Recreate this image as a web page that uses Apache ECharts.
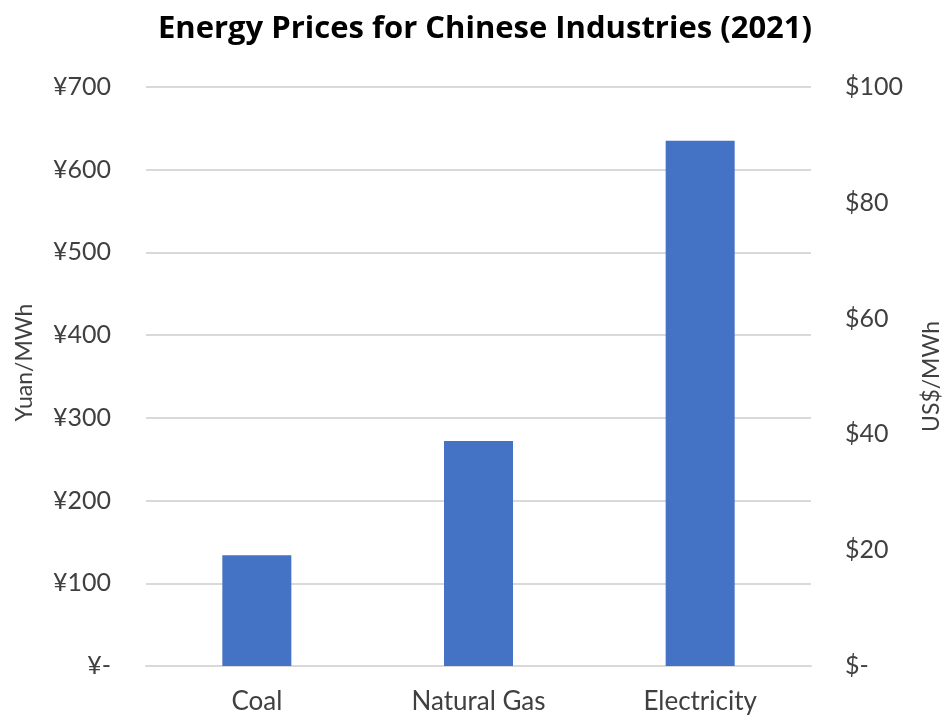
<!DOCTYPE html>
<html>
<head>
<meta charset="utf-8">
<script src="https://cdn.jsdelivr.net/npm/echarts@6/dist/echarts.min.js"></script>
<style>html,body{margin:0;padding:0;background:#fff}#c{width:946px;height:715px}</style>
</head>
<body>
<div id="c"></div>
<script>
const categories = ["Coal", "Natural Gas", "Electricity"];
const yuanPerMWh = [134, 272, 635];
const yuanTicks = { min: 0, max: 700, interval: 100 };
const usdTicks = { min: 0, max: 100, interval: 20 };

const FONT = "Lato";
const chart = echarts.init(document.getElementById('c'), null, { renderer: 'canvas' });
chart.setOption({
  animation: false,
  backgroundColor: '#ffffff',
  title: {
    text: 'Energy Prices for Chinese Industries (2021)',
    left: 480, top: 9, textAlign: 'center',
    textStyle: { fontFamily: 'Open Sans', fontWeight: 'bold', fontSize: 31, color: '#000' }
  },
  grid: { left: 146, right: 135, top: 87, bottom: 49, outerBoundsMode: 'none', containLabel: false },
  xAxis: {
    type: 'category',
    data: categories,
    axisLine: { lineStyle: { color: '#d9d9d9', width: 2 } },
    axisTick: { show: false },
    axisLabel: { fontFamily: FONT, fontSize: 26, color: '#404040', margin: 23 }
  },
  yAxis: [
    {
      type: 'value', position: 'left',
      min: yuanTicks.min, max: yuanTicks.max, interval: yuanTicks.interval,
      name: 'Yuan/MWh', nameLocation: 'middle', nameRotate: 90, nameGap: 110,
      nameTextStyle: { fontFamily: FONT, fontSize: 23, color: '#404040', padding: [0, 0, 0, 28] },
      axisLine: { show: false }, axisTick: { show: false },
      splitLine: { lineStyle: { color: '#d9d9d9', width: 2 } },
      axisLabel: { fontFamily: FONT, fontSize: 25, color: '#404040', margin: 35,
        formatter: v => v === 0 ? '¥-' : '¥' + v }
    },
    {
      type: 'value', position: 'right',
      min: usdTicks.min, max: usdTicks.max, interval: usdTicks.interval,
      name: 'US$/MWh', nameLocation: 'middle', nameRotate: 90, nameGap: 109,
      nameTextStyle: { fontFamily: FONT, fontSize: 23, color: '#404040' },
      axisLine: { show: false }, axisTick: { show: false },
      splitLine: { show: false },
      axisLabel: { fontFamily: FONT, fontSize: 25, color: '#404040', margin: 34,
        formatter: v => v === 0 ? '$-' : '$' + v }
    }
  ],
  series: [
    {
      type: 'bar', yAxisIndex: 0, data: yuanPerMWh, barWidth: 69,
      itemStyle: { color: '#4472C4' }
    }
  ]
});
</script>
</body>
</html>
